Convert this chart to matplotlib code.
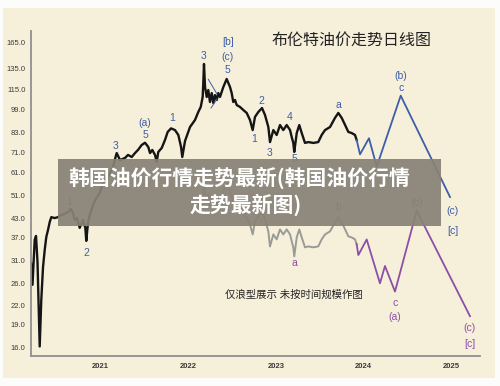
import matplotlib
matplotlib.use('Agg')
import matplotlib.pyplot as plt
from matplotlib.patches import Rectangle

plt.rcParams['font.family'] = ['Liberation Sans', 'Noto Sans CJK SC']

# brent daily price (decimal year, usd)
price_t = [2020.215, 2020.232, 2020.257, 2020.272, 2020.289, 2020.314, 2020.332, 2020.352,
           2020.371, 2020.389, 2020.408, 2020.428, 2020.446, 2020.485, 2020.522, 2020.560,
           2020.598, 2020.636, 2020.667, 2020.693, 2020.712, 2020.738, 2020.769, 2020.807,
           2020.833, 2020.844, 2020.863, 2020.883, 2020.920, 2020.958, 2020.997, 2021.034,
           2021.091, 2021.148, 2021.174, 2021.190, 2021.228, 2021.284, 2021.319, 2021.361,
           2021.398, 2021.432, 2021.474, 2021.512, 2021.549, 2021.569, 2021.595, 2021.626,
           2021.645, 2021.663, 2021.702, 2021.739, 2021.770, 2021.808, 2021.853, 2021.891,
           2021.922, 2021.936, 2021.967, 2022.024, 2022.081, 2022.118, 2022.146, 2022.168,
           2022.175, 2022.183, 2022.195, 2022.214, 2022.232, 2022.251, 2022.271, 2022.289,
           2022.308, 2022.328, 2022.346, 2022.365, 2022.403, 2022.441, 2022.479, 2022.498,
           2022.516, 2022.536, 2022.555, 2022.593, 2022.630, 2022.669, 2022.706, 2022.737,
           2022.763, 2022.801, 2022.843, 2022.877, 2022.915, 2022.934, 2022.972, 2023.010,
           2023.048, 2023.085, 2023.124, 2023.162, 2023.181, 2023.199, 2023.210, 2023.238,
           2023.267, 2023.295, 2023.332, 2023.370, 2023.427, 2023.483, 2023.522, 2023.560,
           2023.617, 2023.673, 2023.711, 2023.750, 2023.799, 2023.825, 2023.863, 2023.901,
           2023.920]
price_v = [30.5, 25.8, 36.4, 37.5, 30.7, 16.1, 23.0, 29.6,
           33.7, 37.2, 39.2, 41.7, 43.3, 43.0, 43.3, 44.0,
           44.4, 45.0, 46.1, 44.7, 42.4, 43.0, 39.9, 42.4,
           39.9, 36.1, 41.4, 44.0, 47.5, 50.1, 52.1, 56.2,
           58.9, 63.6, 68.1, 70.7, 67.0, 68.1, 69.7, 68.6,
           70.7, 72.4, 75.2, 76.5, 74.1, 70.7, 72.4, 69.7,
           66.0, 71.3, 73.5, 78.1, 83.1, 85.4, 84.3, 81.2,
           74.1, 68.6, 77.5, 86.3, 91.1, 96.8, 100.6, 108.6,
           120.8, 139.8, 117.2, 108.6, 114.5, 104.5, 111.9, 103.7,
           110.2, 106.1, 111.9, 108.6, 117.2, 124.6, 117.2, 111.9,
           104.5, 106.1, 102.1, 100.6, 98.3, 96.1, 91.1, 84.3,
           93.2, 96.8, 99.8, 94.6, 86.3, 76.9, 84.3, 81.2,
           87.6, 84.3, 87.6, 84.3, 79.9, 76.4, 71.3, 82.4,
           87.6, 82.4, 76.4, 76.9, 76.4, 76.9, 81.2, 84.3,
           86.3, 92.5, 96.1, 92.5, 86.3, 83.1, 82.4, 81.2,
           78.1]

# ghost copy of the line (shifted down), starts after the 2022 peak
ghost_from = 2022.14
ghost_scale = 0.45

# projections
blue_t = [2023.920, 2023.958, 2024.060, 2024.148, 2024.421, 2024.982]
blue_v = [78.1, 70.0, 79.2, 63.7, 109.7, 50.5]
purple_t = [2023.920, 2023.939, 2024.034, 2024.185, 2024.242, 2024.356, 2024.603, 2025.209]
purple_v = [35.2, 32.4, 36.5, 26.1, 29.8, 24.5, 45.5, 20.3]

# small triangle pattern near the 2022 top
tri_upper_t = [2022.232, 2022.331]
tri_upper_v = [124.3, 111.1]
tri_lower_t = [2022.263, 2022.331]
tri_lower_v = [99.8, 106.9]

yticks = [16, 19, 22, 26, 31, 37, 43, 51, 61, 71, 83, 99, 115, 135, 165]
years = [2021, 2022, 2023, 2024, 2025]

blue_labels = [('1', 2020.647, 48.8), ('2', 2020.841, 33.0), ('3', 2021.174, 74.9),
               ('(a)', 2021.512, 89.0), ('5', 2021.512, 80.9), ('1', 2021.816, 92.5),
               ('3', 2022.183, 149.1), ('[b]', 2022.462, 166.0), ('(c)', 2022.445, 146.9),
               ('5', 2022.445, 133.0), ('1', 2022.752, 78.6), ('2', 2022.840, 105.5),
               ('3', 2022.926, 70.9), ('4', 2023.162, 93.0), ('5', 2023.210, 67.4),
               ('a', 2023.711, 102.1), ('(b)', 2024.421, 127.5), ('c', 2024.421, 116.0),
               ('(c)', 2025.008, 45.5), ('[c]', 2025.019, 39.0)]
purple_labels = [('a', 2023.210, 30.6), ('b', 2023.711, 46.9), ('c', 2024.356, 22.4),
                 ('(a)', 2024.356, 20.1), ('(b)', 2024.603, 48.4), ('(c)', 2025.209, 18.6),
                 ('[c]', 2025.209, 16.4)]

cream = '#f6efda'
blue = '#3d5ea9'
purple = '#8b4fa6'

fig = plt.figure(figsize=(5, 3.86), dpi=100)
fig.patch.set_facecolor('#fcfcfa')
fig.add_artist(Rectangle((3/500, 1-378/386), 492/500, 370/386, transform=fig.transFigure,
                         facecolor=cream, edgecolor='none', zorder=-5))

ax = fig.add_axes([31/500, 1-355.7/386, 449/500, 324.7/386])
ax.set_facecolor('none')
ax.set_yscale('log')
ax.set_xlim(2020.215, 2025.323)
ax.set_ylim(15.0, 179.9)

ghost_t = [t for t in price_t if t >= ghost_from]
ghost_v = [v * ghost_scale for t, v in zip(price_t, price_v) if t >= ghost_from]
ax.plot(ghost_t, ghost_v, color='#9a9a96', lw=1.4)
ax.plot(price_t, price_v, color='#151515', lw=1.7)
ax.plot(blue_t, blue_v, color=blue, lw=1.3)
ax.plot(purple_t, purple_v, color=purple, lw=1.3)
ax.plot(tri_upper_t, tri_upper_v, color=blue, lw=0.7)
ax.plot(tri_lower_t, tri_lower_v, color=blue, lw=0.7)

for s, t, v in blue_labels:
    ax.text(t, v, s, color=blue, fontsize=7.5, ha='center', va='center')
for s, t, v in purple_labels:
    ax.text(t, v, s, color=purple, fontsize=7.5, ha='center', va='center')

ax.set_yticks(yticks)
ax.set_yticklabels(['%.1f' % y for y in yticks])
ax.minorticks_off()
ax.set_xticks(years)
ax.set_xticklabels([str(y) for y in years], fontweight='bold')
ax.tick_params(length=0, labelsize=5.5, labelcolor='#3a3a3a')
ax.tick_params(axis='y', pad=4)
ax.tick_params(axis='x', pad=5)
for side in ['top', 'right']:
    ax.spines[side].set_visible(False)
for side in ['left', 'bottom']:
    ax.spines[side].set_color('#8f8f8f')
    ax.spines[side].set_linewidth(1.3)

fig.text(352/500, 1-40/386, '布伦特油价走势日线图', fontsize=11.5, color='#222222',
         ha='center', va='center')
fig.text(294/500, 1-295/386, '仅浪型展示 未按时间规模作图', fontsize=7.5, color='#222222',
         ha='center', va='center')

# banner on top
fig.add_artist(Rectangle((58/500, 1-226/386), 383/500, 67/386, transform=fig.transFigure,
                         facecolor='#888276', edgecolor='none', alpha=0.92, zorder=5))
fig.text(239/500, 1-178/386, '韩国油价行情走势最新(韩国油价行情', fontsize=15,
         fontweight='bold', color='white', ha='center', va='center', zorder=6,
         family=['Noto Sans CJK SC', 'DejaVu Sans'])
fig.text(246/500, 1-205/386, '走势最新图)', fontsize=15, fontweight='bold',
         color='white', ha='center', va='center', zorder=6,
         family=['Noto Sans CJK SC', 'DejaVu Sans'])

fig.savefig('out.png', dpi=100)
